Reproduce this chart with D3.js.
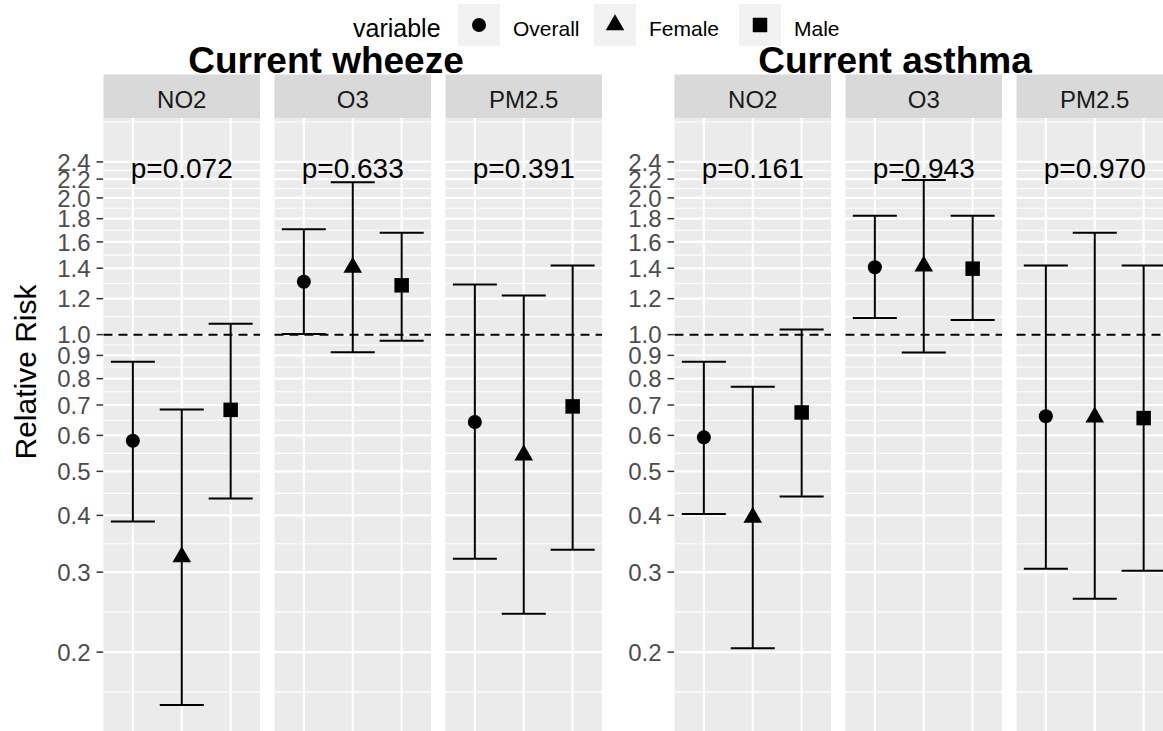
<!DOCTYPE html>
<html>
<head>
<meta charset="utf-8">
<script src="https://cdn.jsdelivr.net/npm/d3@7"></script>
<style>
  body { margin: 0; background: #fff; }
  text { font-family: Arial, "Liberation Sans", sans-serif; }
</style>
</head>
<body>
<div class="canvas"></div>
<script>
// facets and groups
const pollutants = ["NO2", "O3", "PM2.5"];
const groups = ["Overall", "Female", "Male"];
const yTicks = [0.2, 0.3, 0.4, 0.5, 0.6, 0.7, 0.8, 0.9, 1.0, 1.2, 1.4, 1.6, 1.8, 2.0, 2.2, 2.4];
const yLimits = [0.15, 2.6];

// Current wheeze (order: NO2 x groups, O3 x groups, PM2.5 x groups)
const wheezeRR = [0.584, 0.324, 0.683, 1.308, 1.406, 1.284, 0.642, 0.543, 0.695];
const wheezeLower = [0.388, 0.153, 0.436, 1.003, 0.914, 0.969, 0.321, 0.243, 0.336];
const wheezeUpper = [0.872, 0.684, 1.057, 1.706, 2.165, 1.675, 1.29, 1.219, 1.419];
const wheezeP = ["p=0.072", "p=0.633", "p=0.391"];

// Current asthma
const asthmaRR = [0.594, 0.396, 0.674, 1.407, 1.415, 1.397, 0.661, 0.658, 0.655];
const asthmaLower = [0.403, 0.204, 0.44, 1.088, 0.913, 1.077, 0.305, 0.262, 0.302];
const asthmaUpper = [0.871, 0.768, 1.026, 1.828, 2.191, 1.828, 1.419, 1.675, 1.419];
const asthmaP = ["p=0.161", "p=0.943", "p=0.970"];

const pLabelY = 2.33;
const refLine = 1;

const dims = { width: 1163, height: 731, panelW: 156.5, gap: 14.5, top: 118, bottom: 737 };

const svg = d3.select(".canvas").append("svg")
  .attr("width", dims.width)
  .attr("height", dims.height);

// log y scale with ggplot's 5% expansion
const ex = 0.05 * Math.log(yLimits[1] / yLimits[0]);
const y = d3.scaleLog()
  .domain([yLimits[0] * Math.exp(-ex), yLimits[1] * Math.exp(ex)])
  .range([dims.bottom, dims.top]);

const x = d3.scalePoint().domain(groups).range([0, dims.panelW]).padding(0.6);

// minor breaks: midpoints in log space, extended one step at both ends
const lb = yTicks.map(Math.log);
const bd = lb[1] - lb[0];
const ext = [lb[0] - bd, ...lb, lb[lb.length - 1] + bd];
const minor = d3.pairs(ext).map(([a, b]) => Math.exp((a + b) / 2));

const shapes = {
  Overall: d3.symbol().type(d3.symbolCircle).size(155),
  Female: d3.symbol().type(d3.symbolTriangle).size(150),
  Male: d3.symbol().type(d3.symbolSquare).size(210)
};

const drawPlot = (left, rr, lower, upper, pLabels, title, titleX) => {
  const rows = [];
  pollutants.forEach((p, i) => groups.forEach((gname, j) => {
    const k = i * 3 + j;
    rows.push({ pollutant: p, group: gname, rr: rr[k], lo: lower[k], hi: upper[k] });
  }));

  const plot = svg.append("g");

  // title
  plot.append("text")
    .attr("x", titleX).attr("y", 73)
    .attr("text-anchor", "middle")
    .attr("font-size", 37).attr("font-weight", "bold").attr("fill", "#000")
    .text(title);

  // y axis
  const axis = plot.append("g");
  yTicks.forEach(t => {
    axis.append("line")
      .attr("x1", left - 7).attr("x2", left)
      .attr("y1", y(t)).attr("y2", y(t))
      .attr("stroke", "#333").attr("stroke-width", 1.5);
    axis.append("text")
      .attr("x", left - 13).attr("y", y(t))
      .attr("dy", "0.36em")
      .attr("text-anchor", "end")
      .attr("font-size", 24).attr("fill", "#4d4d4d")
      .text(d3.format(".1f")(t));
  });

  pollutants.forEach((p, i) => {
    const px = left + i * (dims.panelW + dims.gap);
    const panel = plot.append("g").attr("transform", `translate(${px},0)`);

    // strip
    panel.append("rect")
      .attr("x", 0).attr("y", 74.5)
      .attr("width", dims.panelW).attr("height", dims.top - 74.5)
      .attr("fill", "#d9d9d9");
    panel.append("text")
      .attr("x", dims.panelW / 2).attr("y", 108)
      .attr("text-anchor", "middle")
      .attr("font-size", 24).attr("fill", "#1a1a1a")
      .text(p);

    // background + grid
    panel.append("rect")
      .attr("x", 0).attr("y", dims.top)
      .attr("width", dims.panelW).attr("height", dims.bottom - dims.top)
      .attr("fill", "#ebebeb");
    panel.selectAll(".minor").data(minor.filter(m => y(m) > dims.top && y(m) < dims.bottom))
      .enter().append("line")
      .attr("x1", 0).attr("x2", dims.panelW)
      .attr("y1", d => y(d)).attr("y2", d => y(d))
      .attr("stroke", "#fff").attr("stroke-width", 1.1);
    panel.selectAll(".major").data(yTicks)
      .enter().append("line")
      .attr("x1", 0).attr("x2", dims.panelW)
      .attr("y1", d => y(d)).attr("y2", d => y(d))
      .attr("stroke", "#fff").attr("stroke-width", 2.2);
    panel.selectAll(".vgrid").data(groups)
      .enter().append("line")
      .attr("x1", d => x(d)).attr("x2", d => x(d))
      .attr("y1", dims.top).attr("y2", dims.bottom)
      .attr("stroke", "#fff").attr("stroke-width", 2.2);

    // reference line
    panel.append("line")
      .attr("x1", 0).attr("x2", dims.panelW)
      .attr("y1", y(refLine)).attr("y2", y(refLine))
      .attr("stroke", "#000").attr("stroke-width", 2)
      .attr("stroke-dasharray", "9,6");

    const data = rows.filter(r => r.pollutant === p);
    const capW = x.step() * 0.9;

    const bars = panel.selectAll(".bar").data(data).enter().append("g")
      .attr("stroke", "#000").attr("stroke-width", 2);
    bars.append("line")
      .attr("x1", d => x(d.group)).attr("x2", d => x(d.group))
      .attr("y1", d => y(d.lo)).attr("y2", d => y(d.hi));
    bars.append("line")
      .attr("x1", d => x(d.group) - capW / 2).attr("x2", d => x(d.group) + capW / 2)
      .attr("y1", d => y(d.hi)).attr("y2", d => y(d.hi));
    bars.append("line")
      .attr("x1", d => x(d.group) - capW / 2).attr("x2", d => x(d.group) + capW / 2)
      .attr("y1", d => y(d.lo)).attr("y2", d => y(d.lo));

    panel.selectAll(".pt").data(data).enter().append("path")
      .attr("transform", d => `translate(${x(d.group)},${y(d.rr)})`)
      .attr("d", d => shapes[d.group]())
      .attr("fill", "#000");

    // p value
    panel.append("text")
      .attr("x", x(groups[1])).attr("y", y(pLabelY))
      .attr("dy", "0.36em")
      .attr("text-anchor", "middle")
      .attr("font-size", 28).attr("fill", "#000")
      .text(pLabels[i]);
  });
};

drawPlot(103.5, wheezeRR, wheezeLower, wheezeUpper, wheezeP, "Current wheeze", 326);
drawPlot(674.5, asthmaRR, asthmaLower, asthmaUpper, asthmaP, "Current asthma", 895);

// y title
svg.append("text")
  .attr("transform", "translate(36,372) rotate(-90)")
  .attr("text-anchor", "middle")
  .attr("font-size", 30).attr("fill", "#000")
  .text("Relative Risk");

// legend
const legend = svg.append("g");
legend.append("text")
  .attr("x", 353).attr("y", 37)
  .attr("font-size", 25).attr("fill", "#000")
  .text("variable");
const keyX = [458, 594, 739];
groups.forEach((gname, i) => {
  legend.append("rect")
    .attr("x", keyX[i]).attr("y", 4)
    .attr("width", 42).attr("height", 42)
    .attr("fill", "#f2f2f2");
  legend.append("path")
    .attr("transform", `translate(${keyX[i] + 21},25)`)
    .attr("d", shapes[gname]())
    .attr("fill", "#000");
  legend.append("text")
    .attr("x", keyX[i] + 55).attr("y", 36)
    .attr("font-size", 21).attr("fill", "#000")
    .text(gname);
});
</script>
</body>
</html>
